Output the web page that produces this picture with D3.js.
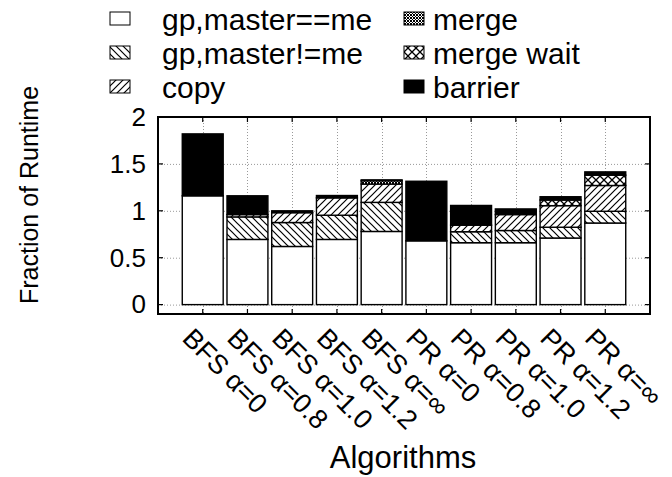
<!DOCTYPE html>
<html>
<head>
<meta charset="utf-8">
<script src="https://cdn.jsdelivr.net/npm/d3@7"></script>
<style>
  body { margin: 0; background: #fff; }
  svg { display: block; font-family: "Liberation Sans", Arial, Helvetica, sans-serif; }
</style>
</head>
<body>
<svg id="chart" width="672" height="477"></svg>
<script>
// Runtime breakdown per algorithm configuration (fractions of baseline runtime)
const categories = ["BFS α=0", "BFS α=0.8", "BFS α=1.0", "BFS α=1.2", "BFS α=∞",
                    "PR α=0", "PR α=0.8", "PR α=1.0", "PR α=1.2", "PR α=∞"];
const gpMasterEq = [1.16, 0.695, 0.62, 0.695, 0.78, 0.68, 0.66, 0.66, 0.71, 0.87];
const gpMasterNe = [0, 0.24, 0.255, 0.258, 0.31, 0, 0.117, 0.13, 0.115, 0.125];
const copyTime   = [0, 0.025, 0.105, 0.185, 0.195, 0, 0.07, 0.17, 0.23, 0.275];
const mergeTime  = [0, 0, 0, 0, 0.035, 0, 0, 0, 0, 0];
const mergeWait  = [0, 0, 0, 0, 0, 0, 0, 0, 0.06, 0.11];
const barrier    = [0.66, 0.2, 0.02, 0.025, 0.01, 0.635, 0.21, 0.06, 0.035, 0.035];
const seriesNames = ["gp,master==me", "gp,master!=me", "copy", "merge", "merge wait", "barrier"];
const yTicks = [0, 0.5, 1, 1.5, 2];
const yTickLabels = ["0", "0.5", "1", "1.5", "2"];

const seriesValues = [gpMasterEq, gpMasterNe, copyTime, mergeTime, mergeWait, barrier];
const fills = ["#fff", "url(#hatchBack)", "url(#hatchFwd)", "url(#crossDense)", "url(#crossWide)", "#000"];

const svg = d3.select("#chart");
const plot = { left: 158, right: 650, top: 117, bottom: 314 };

const x = d3.scaleLinear().domain([-1, categories.length]).range([plot.left, plot.right]);
const y = d3.scaleLinear().domain([-0.1, 2]).range([plot.bottom, plot.top]);
const slot = x(1) - x(0);
const barW = slot * 0.915;

// Fill patterns
const defs = svg.append("defs");
function pattern(id, size, d, sw, bg) {
  const p = defs.append("pattern").attr("id", id).attr("patternUnits", "userSpaceOnUse")
    .attr("width", size).attr("height", size);
  p.append("rect").attr("width", size).attr("height", size).attr("fill", bg || "#fff");
  p.append("path").attr("d", d).attr("stroke", "#000").attr("stroke-width", sw).attr("fill", "none");
}
pattern("hatchBack", 7, "M0,0L7,7M-1,6L1,8M6,-1L8,1", 1.2);
pattern("hatchFwd", 7, "M0,7L7,0M-1,1L1,-1M6,8L8,6", 1.2);
pattern("crossDense", 3, "M0,0L3,3M0,3L3,0", 1.0);
pattern("crossWide", 8, "M0,0L8,8M0,8L8,0", 1.3);

// Grid
const grid = svg.append("g").attr("stroke", "#999").attr("stroke-width", 1).attr("stroke-dasharray", "1,2");
grid.selectAll("line.gy").data(yTicks).join("line")
  .attr("x1", plot.left).attr("x2", plot.right)
  .attr("y1", d => y(d) + 0.5).attr("y2", d => y(d) + 0.5);
grid.selectAll("line.gx").data(categories).join("line")
  .attr("x1", (d, i) => Math.round(x(i)) + 0.5).attr("x2", (d, i) => Math.round(x(i)) + 0.5)
  .attr("y1", plot.top).attr("y2", plot.bottom);

// Stacked bars
const rows = categories.map((c, i) => {
  const r = { name: c, i };
  seriesNames.forEach((s, k) => r[s] = seriesValues[k][i]);
  return r;
});
const stacked = d3.stack().keys(seriesNames)(rows);
const bars = svg.append("g");
stacked.forEach((layer, k) => {
  bars.append("g").selectAll("rect").data(layer.filter(d => d[1] - d[0] > 0)).join("rect")
    .attr("x", d => x(d.data.i) - barW / 2)
    .attr("width", barW)
    .attr("y", d => y(d[1]))
    .attr("height", d => y(d[0]) - y(d[1]))
    .attr("fill", fills[k])
    .attr("stroke", "#000")
    .attr("stroke-width", 1.4);
});

// Axes with inward ticks
const ticksG = svg.append("g").attr("stroke", "#000").attr("stroke-width", 1.2);
yTicks.forEach(t => {
  ticksG.append("line").attr("x1", plot.left).attr("x2", plot.left + 5).attr("y1", y(t)).attr("y2", y(t));
  ticksG.append("line").attr("x1", plot.right).attr("x2", plot.right - 5).attr("y1", y(t)).attr("y2", y(t));
});
categories.forEach((c, i) => {
  ticksG.append("line").attr("x1", x(i)).attr("x2", x(i)).attr("y1", plot.bottom).attr("y2", plot.bottom - 5);
  ticksG.append("line").attr("x1", x(i)).attr("x2", x(i)).attr("y1", plot.top).attr("y2", plot.top + 5);
});

const yAxis = d3.axisLeft(y).tickValues(yTicks).tickFormat((d, i) => yTickLabels[i]).tickSize(0).tickPadding(12);
svg.append("g").attr("transform", `translate(${plot.left},0)`).call(yAxis)
  .call(g => g.select(".domain").remove())
  .selectAll("text").attr("font-size", 26).attr("font-family", "Liberation Sans, Arial, sans-serif").attr("fill", "#000");

svg.append("rect").attr("x", plot.left).attr("y", plot.top)
  .attr("width", plot.right - plot.left).attr("height", plot.bottom - plot.top)
  .attr("fill", "none").attr("stroke", "#000").attr("stroke-width", 2);

// Category labels, rotated
svg.append("g").selectAll("text").data(categories).join("text")
  .attr("transform", (d, i) => `translate(${x(i) - 8},${plot.bottom + 12}) rotate(45)`)
  .attr("font-size", 27).attr("dy", "0.72em").text(d => d);

// Axis titles
svg.append("text").attr("x", 403).attr("y", 468)
  .attr("text-anchor", "middle").attr("font-size", 31).text("Algorithms");
svg.append("text").attr("transform", `translate(38,195) rotate(-90)`)
  .attr("text-anchor", "middle").attr("font-size", 25).text("Fraction of Runtime");

// Legend
const legend = svg.append("g");
seriesNames.forEach((s, k) => {
  const col = Math.floor(k / 3), row = k % 3;
  const lx = col === 0 ? 110 : 404, ly = 19 + row * 34;
  legend.append("rect").attr("x", lx).attr("y", ly - 7).attr("width", 20).attr("height", 13)
    .attr("fill", fills[k]).attr("stroke", "#000").attr("stroke-width", 1);
  legend.append("text").attr("x", col === 0 ? 162 : 433).attr("y", ly).attr("dy", "0.35em")
    .attr("font-size", 30).text(s);
});
</script>
</body>
</html>
